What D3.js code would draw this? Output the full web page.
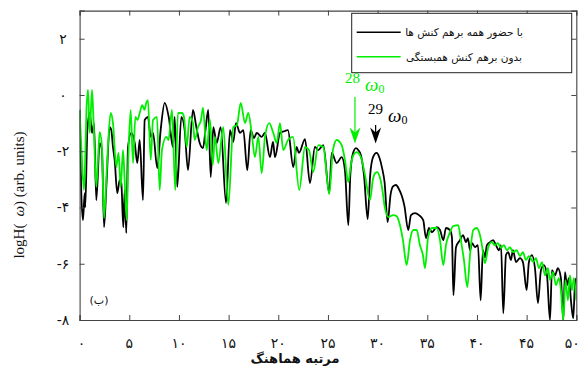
<!DOCTYPE html>
<html><head><meta charset="utf-8">
<script src="https://cdn.jsdelivr.net/npm/d3@7"></script>
<style>body{margin:0;background:#fff}svg{display:block}</style>
</head><body>
<svg id="c" width="581" height="367"></svg>
<script>
// ---- data ----
const xTicks = [0,5,10,15,20,25,30,35,40,45,50];
const yTicks = [2,0,-2,-4,-6,-8];
const xTickLabels = ["۰","۵","۱۰","۱۵","۲۰","۲۵","۳۰","۳۵","۴۰","۴۵","۵۰"];
const yTickLabels = ["۲","۰","-۲","-۴","-۶","-۸"];
const seriesNames = ["با حضور همه برهم کنش ها","بدون برهم کنش همبستگی"];
const xTitle = "مرتبه هماهنگ";
const panelLabel = "(ب)";
const annotations = [
  {n:"28", h:27.82, color:"#00ee00"},
  {n:"29", h:29.9, color:"#000000"}
];
// harmonic order, logH
const blackSeries = [
[0,-0.53],[0.17,-3.49],[0.34,-4.45],[0.51,-3.49],[0.57,-3.99],[0.78,-1.25],[1.02,-0.64],[1.25,-1.35],[1.45,-1.0],[1.68,-3.74],
[2.02,-1.71],[2.25,-1.96],[2.46,-4.7],[2.69,-3.27],[3.03,-1.14],[3.19,-1.25],[3.36,-1.85],[3.53,-2.31],[3.79,-3.49],[4.04,-3.02],
[4.2,-3.13],[4.4,-4.7],[4.54,-3.38],[4.7,-4.91],[4.87,-1.85],[5.2,-1.35],[5.55,-1.71],[5.81,-2.42],[6.05,-1.6],[6.38,-3.74],
[6.55,-0.89],[6.88,-0.78],[7.16,-1.49],[7.39,-1.35],[7.82,-2.6],[8.16,-1.25],[8.57,-0.28],[8.97,-0.78],[9.4,-1.85],[9.57,-0.78],
[9.83,-3.27],[10.24,-0.78],[10.58,-1.25],[10.91,-2.67],[11.41,-0.53],[11.75,-1.14],[12.09,-1.71],[12.42,-1.89],[12.67,-1.25],[12.95,-0.53],
[13.2,-2.92],[13.46,-1.14],[13.8,-1.71],[14.2,-1.14],[14.74,-3.84],[15.14,-1.25],[15.47,-1.67],[15.74,-1.0],[16.15,-1.35],[16.48,-1.25],
[16.88,-2.67],[17.22,-1.25],[17.55,-1.53],[17.83,-1.35],[18.33,-1.49],[18.66,-1.35],[19.16,-2.21],[19.47,-1.67],[19.67,-2.21],[20.17,-1.35],
[20.67,-1.28],[20.97,-1.25],[21.51,-2.56],[21.85,-1.85],[22.08,-2.06],[22.69,-1.57],[23.19,-3.13],[23.69,-1.85],[24.03,-1.96],[24.53,-1.78],
[25.13,-3.49],[25.38,-2.06],[25.88,-2.42],[26.38,-2.21],[26.71,-2.67],[27.05,-4.63],[27.25,-2.85],[27.5,-2.1],[27.82,-1.89],[28.1,-1.98],
[28.32,-2.14],[28.63,-2.85],[29.0,-4.41],[29.25,-2.85],[29.55,-2.2],[29.9,-2.06],[30.2,-2.25],[30.45,-2.6],[30.7,-3.1],[31.01,-4.52],
[31.3,-3.55],[31.55,-3.25],[31.85,-3.2],[32.15,-3.35],[32.45,-3.6],[32.7,-3.95],[33.08,-4.8],[33.36,-4.27],[33.76,-4.2],[34.16,-4.27],
[34.59,-4.45],[34.87,-5.09],[35.17,-4.73],[35.47,-4.88],[35.94,-4.7],[36.28,-4.8],[36.61,-5.16],[36.88,-4.73],[37.28,-4.8],[37.48,-5.05],
[37.63,-7.12],[37.89,-5.41],[38.29,-5.16],[38.59,-4.98],[38.89,-5.23],[39.09,-5.09],[39.3,-5.52],[39.5,-5.27],[39.8,-5.41],[40.1,-5.34],
[40.37,-7.3],[40.6,-5.52],[40.8,-5.77],[41.0,-5.34],[41.31,-5.23],[41.64,-5.16],[41.91,-5.34],[42.21,-5.52],[42.42,-5.34],[42.65,-7.76],
[42.92,-5.69],[43.15,-5.59],[43.42,-5.87],[43.62,-5.52],[43.93,-5.94],[44.33,-5.8],[44.63,-5.94],[45.0,-6.94],[45.23,-5.94],[45.54,-5.69],
[45.84,-6.16],[46.14,-7.4],[46.44,-6.23],[46.74,-6.05],[47.05,-6.41],[47.35,-8.0],[47.55,-6.23],[47.85,-6.41],[48.15,-6.16],[48.45,-6.51],
[48.69,-8.0],[48.86,-6.3],[49.06,-6.76],[49.26,-6.51],[49.46,-7.3],[49.69,-7.94],[49.86,-6.76],[50.0,-6.51]
];
const greenSeries = [
[0,-0.53],[0.19,-1.96],[0.44,-3.38],[0.59,-1.96],[0.69,-0.53],[0.85,0.18],[1.02,-1.35],[1.25,0.18],[1.4,-0.89],[1.68,-3.27],
[1.85,-2.31],[2.02,-1.32],[2.25,-1.85],[2.46,-4.38],[2.71,-2.85],[2.86,-1.78],[3.13,-0.64],[3.36,-1.0],[3.69,-2.56],[3.92,-2.06],
[4.14,-3.27],[4.37,-1.96],[4.52,-2.92],[4.74,-4.45],[4.92,-2.06],[5.14,-0.53],[5.38,-2.42],[5.61,-0.78],[5.83,-0.89],[6.05,-0.64],
[6.31,-0.36],[6.53,-0.53],[6.71,-0.28],[6.88,-0.18],[7.16,-2.31],[7.39,-0.89],[7.79,-0.78],[8.06,-3.38],[8.29,-1.96],[8.73,-1.49],
[8.95,-1.6],[9.3,-0.53],[9.63,-3.38],[9.9,-0.64],[10.31,-0.64],[10.51,-0.78],[10.78,-1.85],[11.08,-0.78],[11.41,-1.0],[11.59,-1.6],
[11.92,-1.14],[12.22,-0.89],[12.42,-0.46],[12.79,-1.96],[13.13,-0.89],[13.4,-2.49],[13.63,-1.49],[13.96,-2.42],[14.46,-1.14],[14.97,-3.91],
[15.47,-1.14],[15.84,-1.07],[16.22,-0.28],[16.65,-1.0],[16.98,-0.64],[17.32,-1.35],[17.65,-2.21],[17.99,-1.49],[18.33,-2.78],[18.66,-1.49],
[19.09,-1.0],[19.5,-1.35],[19.84,-1.71],[20.17,-1.0],[20.5,-1.96],[20.98,-1.6],[21.48,-1.49],[22.11,-3.38],[22.69,-1.85],[23.09,-1.96],
[23.52,-2.74],[24.03,-1.78],[24.53,-1.85],[25.13,-3.52],[25.5,-1.96],[25.88,-1.6],[26.38,-1.78],[26.71,-2.31],[27.05,-3.1],[27.3,-2.5],
[27.55,-2.15],[27.89,-2.03],[28.15,-2.1],[28.4,-2.3],[28.73,-2.85],[29.23,-3.74],[29.53,-3.0],[29.75,-2.78],[29.96,-2.74],[30.2,-2.9],
[30.45,-3.3],[30.7,-3.95],[31.07,-4.34],[31.58,-4.27],[31.92,-4.31],[32.25,-4.63],[32.55,-5.16],[32.92,-6.05],[33.26,-5.16],[33.59,-4.8],
[33.93,-4.8],[34.26,-5.34],[34.56,-5.69],[34.77,-6.16],[35.07,-5.09],[35.47,-4.73],[35.94,-4.73],[36.28,-5.16],[36.61,-6.05],[36.88,-5.34],
[37.28,-4.88],[37.61,-4.66],[38.11,-4.63],[38.38,-5.16],[38.69,-5.87],[39.03,-6.83],[39.3,-5.69],[39.63,-4.8],[39.97,-4.73],[40.3,-4.98],
[40.5,-5.34],[40.8,-5.98],[41.14,-5.41],[41.48,-5.23],[41.81,-5.34],[42.11,-5.27],[42.42,-5.44],[42.72,-5.34],[43.02,-5.52],[43.32,-5.41],
[43.62,-5.59],[44.0,-5.52],[44.33,-5.73],[44.63,-5.59],[44.93,-5.87],[45.23,-5.73],[45.67,-5.94],[45.94,-5.8],[46.24,-6.16],[46.54,-5.94],
[46.85,-6.41],[47.15,-6.16],[47.35,-6.58],[47.65,-6.3],[47.95,-6.76],[48.25,-6.51],[48.45,-6.94],[48.69,-8.0],[48.91,-6.58],[49.16,-7.3],
[49.36,-6.41],[49.56,-6.94],[49.76,-6.51],[50.0,-7.3]
];

// ---- drawing ----
const svg = d3.select("#c");
const L = 79.6, R = 576.3, T = 10.6, B = 320;
const x = d3.scaleLinear().domain([0,50]).range([L,R]);
const y = d3.scaleLinear().domain([-8,3]).range([B,T]);
const GREEN = "#00ee00";
const axisColor = "#444";

svg.append("defs").append("clipPath").attr("id","clip")
  .append("rect").attr("x",L).attr("y",T).attr("width",R-L).attr("height",B-T);

const line = d3.line().x(d=>x(d[0])).y(d=>y(d[1])).curve(d3.curveMonotoneX);
const plot = svg.append("g").attr("clip-path","url(#clip)");
plot.append("path").datum(blackSeries).attr("d",line)
  .attr("fill","none").attr("stroke","#000").attr("stroke-width",1.8).attr("stroke-linejoin","round");
plot.append("path").datum(greenSeries).attr("d",line)
  .attr("fill","none").attr("stroke",GREEN).attr("stroke-width",1.8).attr("stroke-linejoin","round");

// axes (ticks inward)
const tk = 5;
const axB = svg.append("g").attr("transform",`translate(0,${B})`)
  .call(d3.axisBottom(x).tickValues(xTicks).tickSize(-tk).tickFormat(""));
const axT = svg.append("g").attr("transform",`translate(0,${T})`)
  .call(d3.axisTop(x).tickValues(xTicks).tickSize(-tk).tickFormat(""));
const axL = svg.append("g").attr("transform",`translate(${L},0)`)
  .call(d3.axisLeft(y).tickValues(yTicks).tickSize(-tk).tickFormat(""));
const axR = svg.append("g").attr("transform",`translate(${R},0)`)
  .call(d3.axisRight(y).tickValues(yTicks).tickSize(-tk).tickFormat(""));
[axB,axT,axL,axR].forEach(a=>{
  a.selectAll("path").attr("stroke",axisColor).attr("stroke-width",1.1);
  a.selectAll("line").attr("stroke",axisColor).attr("stroke-width",1);
});

// tick labels
const persianFont = "DejaVu Sans";
svg.append("g").selectAll("text").data(xTicks).join("text")
  .attr("x",(d)=>x(d)+ (d===0?2:0) - (d===50?4:0)).attr("y",348)
  .attr("text-anchor","middle").attr("font-family",persianFont).attr("font-size",14)
  .attr("fill","#111").text((d,i)=>xTickLabels[i]);
svg.append("g").selectAll("text").data(yTicks).join("text")
  .attr("x",63).attr("y",d=>y(d)+5)
  .attr("text-anchor","middle").attr("font-family",persianFont).attr("font-size",14)
  .attr("fill","#111").text((d,i)=>yTickLabels[i]);

// x title
svg.append("text").attr("x",295).attr("y",363).attr("text-anchor","middle")
  .attr("font-family",persianFont).attr("font-size",13).attr("font-weight","bold")
  .attr("fill","#111").text(xTitle);

// y title
const yt = svg.append("text").attr("transform","translate(24,195) rotate(-90)")
  .attr("text-anchor","middle").attr("font-family","Liberation Serif").attr("font-size",15).attr("fill","#111");
yt.append("tspan").text("logH(");
yt.append("tspan").attr("dx",7).attr("font-style","italic").text("ω");
yt.append("tspan").text(") (arb. units)");

// panel label
svg.append("text").attr("x",99).attr("y",304).attr("text-anchor","middle")
  .attr("font-family",persianFont).attr("font-size",11).attr("fill","#111").text(panelLabel);

// legend
const lg = svg.append("g");
lg.append("rect").attr("x",351.7).attr("y",13.3).attr("width",220).attr("height",59.4)
  .attr("fill","#fff").attr("stroke","#222").attr("stroke-width",1);
const lgColors = ["#000", GREEN];
const lgY = [32.3, 56.7];
seriesNames.forEach((n,i)=>{
  lg.append("line").attr("x1",356.7).attr("x2",400.7).attr("y1",lgY[i]).attr("y2",lgY[i])
    .attr("stroke",lgColors[i]).attr("stroke-width",1.6);
  lg.append("text").attr("x",464).attr("y",lgY[i]+4).attr("text-anchor","middle")
    .attr("font-family",persianFont).attr("font-size",10.5).attr("fill","#111").text(n);
});

// annotations with arrows
function arrow(xp, y0, tip, color){
  svg.append("line").attr("x1",xp).attr("x2",xp).attr("y1",y0).attr("y2",tip-8)
    .attr("stroke",color).attr("stroke-width",1.2);
  svg.append("path").attr("d",`M${xp},${tip} L${xp-5.5},${tip-16} L${xp},${tip-11} L${xp+5.5},${tip-16} Z`)
    .attr("fill",color);
}
const a28 = annotations[0], a29 = annotations[1];
const ax28 = x(a28.h) - 1, ax29 = x(a29.h) - 1;
arrow(ax28, 97, 143.5, a28.color);
arrow(ax29, 125, 143.5, a29.color);
function label(xp, yb, a){
  const t = svg.append("text").attr("x",xp).attr("y",yb).attr("font-family","Liberation Serif")
    .attr("fill",a.color);
  t.append("tspan").attr("font-size",15).text(a.n);
  t.append("tspan").attr("dx",5).attr("dy",8).attr("font-size",19).attr("font-style","italic").text("ω");
  t.append("tspan").attr("dy",2).attr("font-size",12).text("0");
}
label(345, 83, a28);
label(368, 114, a29);
</script>
</body></html>
